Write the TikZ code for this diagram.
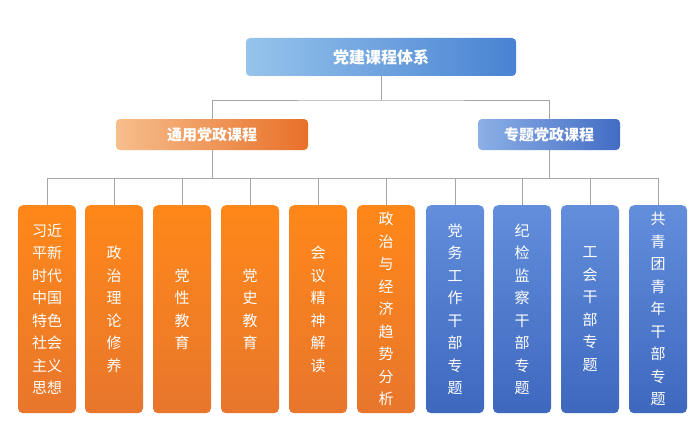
\documentclass[tikz,border=0pt]{standalone}
\usepackage{fontspec}
\setmainfont{Noto Sans CJK SC}
\begin{document}
\begin{tikzpicture}[x=1pt,y=-1pt,
  ln/.style={draw=gray!70,line width=0.8pt},
  col/.style={rounded corners=5pt,minimum width=58pt,minimum height=208pt,anchor=north,text=white,font=\fontsize{15}{22.5}\selectfont,align=center,inner sep=0pt},
  oc/.style={col,top color=orange!60!red!10!orange!90,bottom color={rgb,255:red,232;green,118;blue,44}},
  bc/.style={col,top color={rgb,255:red,98;green,142;blue,220},bottom color={rgb,255:red,62;green,104;blue,190}}]
\useasboundingbox (0,0) rectangle (700,433);
\fill[white] (0,0) rectangle (700,433);
\node[rounded corners=4pt,minimum width=270pt,minimum height=38pt,left color={rgb,255:red,150;green,196;blue,236},right color={rgb,255:red,72;green,130;blue,210},text=white,font=\bfseries\fontsize{16}{16}\selectfont] (top) at (381,57) {党建课程体系};
\node[rounded corners=4pt,minimum width=192pt,minimum height=31pt,left color={rgb,255:red,246;green,190;blue,140},right color={rgb,255:red,232;green,112;blue,40},text=white,font=\bfseries\fontsize{15}{15}\selectfont] (L) at (212,134.5) {通用党政课程};
\node[rounded corners=4pt,minimum width=142pt,minimum height=31pt,left color={rgb,255:red,140;green,176;blue,230},right color={rgb,255:red,66;green,108;blue,196},text=white,font=\bfseries\fontsize{15}{15}\selectfont] (R) at (549,134.5) {专题党政课程};
\coordinate (j1) at (381,100);
\draw[ln] (top.south) -- (j1);
\draw[ln] (L.north) |- (j1) -| (R.north);
\coordinate (j2) at (381,178);
\draw[ln] (L.south) -- (212,178);
\draw[ln] (R.south) -- (549,178);
\draw[ln] (47,178) -- (658,178);
\foreach \x/\n/\t/\s in {47/c1/{习近\\平新\\时代\\中国\\特色\\社会\\主义\\思想}/oc,114/c2/{政\\治\\理\\论\\修\\养}/oc,182/c3/{党\\性\\教\\育}/oc,250/c4/{党\\史\\教\\育}/oc,318/c5/{会\\议\\精\\神\\解\\读}/oc,386/c6/{政\\治\\与\\经\\济\\趋\\势\\分\\析}/oc,455/c7/{党\\务\\工\\作\\干\\部\\专\\题}/bc,522/c8/{纪\\检\\监\\察\\干\\部\\专\\题}/bc,590/c9/{工\\会\\干\\部\\专\\题}/bc,658/c10/{共\\青\\团\\青\\年\\干\\部\\专\\题}/bc}{
  \node[\s] (\n) at (\x,205) {\t};
  \draw[ln] (\x,178) -- (\n.north);
}
\end{tikzpicture}
\end{document}
